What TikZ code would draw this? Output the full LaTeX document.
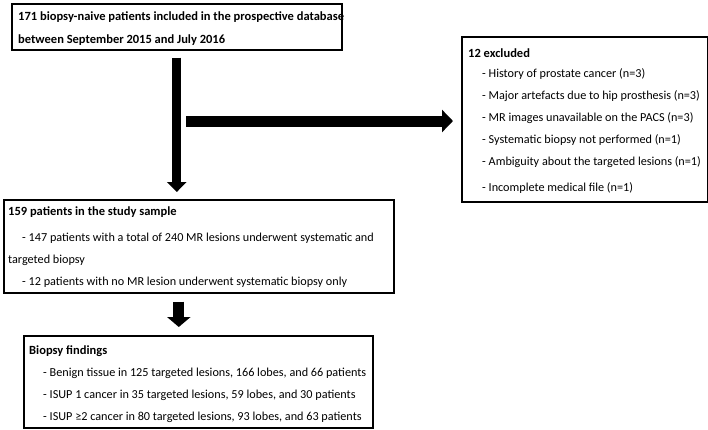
\documentclass[tikz,border=0pt]{standalone}
\usepackage{fontspec}
\setmainfont{Carlito}
\usetikzlibrary{arrows.meta}
\begin{document}
\begin{tikzpicture}[x=1pt,y=-1pt,
  box/.style={draw=black,line width=1.6pt,inner sep=0pt,anchor=north west},
  txt/.style={anchor=west,inner sep=0pt,font=\fontsize{12.2}{14}\selectfont},
  btxt/.style={txt,font=\fontsize{12.5}{14}\selectfont\bfseries},
  bigarrow/.style={line width=#1,draw=black},
]
\useasboundingbox[fill=white] (0,0) rectangle (708,429);
% boxes
\node[box,minimum width=330pt,minimum height=46pt] (b1) at (11,3) {};
\node[box,minimum width=246pt,minimum height=165pt] (ex) at (461,36) {};
\node[box,minimum width=390pt,minimum height=93pt] (b2) at (3,199) {};
\node[box,minimum width=349pt,minimum height=92pt] (b3) at (23,335) {};
% texts box 1
\node[btxt] (t11) at (18,17) {171 biopsy-naive patients included in the prospective database};
\node[btxt] (t12) at (18,40) {between September 2015 and July 2016};
% excluded
\node[btxt] (e0) at (468,53) {12 excluded};
\node[txt] (e1) at (482,74) {- History of prostate cancer (n=3)};
\node[txt] (e2) at (482,96) {- Major artefacts due to hip prosthesis (n=3)};
\node[txt] (e3) at (482,118) {- MR images unavailable on the PACS (n=3)};
\node[txt] (e4) at (482,140) {- Systematic biopsy not performed (n=1)};
\node[txt] (e5) at (482,162) {- Ambiguity about the targeted lesions (n=1)};
\node[txt] (e6) at (482,188) {- Incomplete medical file (n=1)};
% box 2
\node[btxt] (s0) at (8,212) {159 patients in the study sample};
\node[txt] (s1) at (22,238) {- 147 patients with a total of 240 MR lesions underwent systematic and};
\node[txt] (s2) at (8,260) {targeted biopsy};
\node[txt] (s3) at (22,282) {- 12 patients with no MR lesion underwent systematic biopsy only};
% box 3
\node[btxt] (f0) at (29,351) {Biopsy findings};
\node[txt] (f1) at (43,373) {- Benign tissue in 125 targeted lesions, 166 lobes, and 66 patients};
\node[txt] (f2) at (43,395) {- ISUP 1 cancer in 35 targeted lesions, 59 lobes, and 30 patients};
\node[txt] (f3) at (43,417) {- ISUP \char"2265 2 cancer in 80 targeted lesions, 93 lobes, and 63 patients};
% arrows
\coordinate (split) at (186,121);
\draw[bigarrow=9pt,-{Triangle[width=19pt,length=10pt]},shorten <=7pt,shorten >=7pt]
  (b1.south) -- (b1.south |- b2.north);
\draw[bigarrow=11pt,-{Triangle[width=22pt,length=11pt]},shorten >=8pt]
  (split) -- (split -| ex.west);
\draw[bigarrow=11pt,-{Triangle[width=23pt,length=10pt]},shorten <=8pt,shorten >=8pt]
  ([xshift=2pt]b2.south -| b1.south) -- ([xshift=2pt]b3.north -| b1.south);
\end{tikzpicture}
\end{document}
